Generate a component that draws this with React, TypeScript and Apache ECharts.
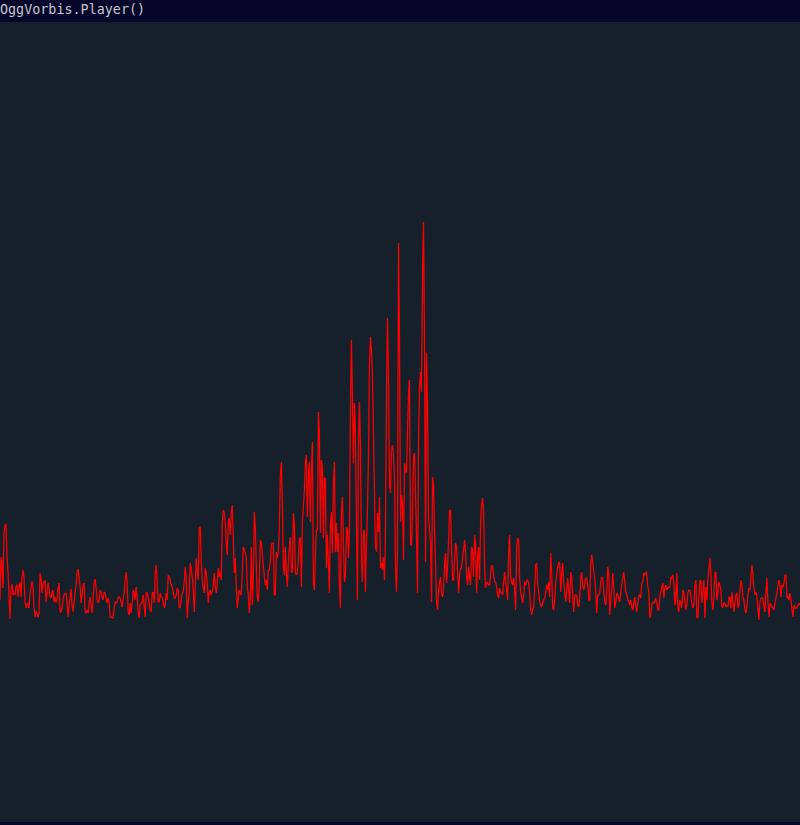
import React, { useEffect, useRef } from "react";
import * as echarts from "echarts";

const TITLE = "OggVorbis.Player()";

// Spectrum magnitude, one value per frequency bin (800 bins), split in bands
const bandA = [222,265,255,234,290,297,298,265,250,227,203,232,238,227,229,227,236,237,225,235,240,225,245,252,244,220,214,219,217,214,229,235,241,235,214,205,210,209,205,209,249,244,229,239,240,242,220,230,239,234,225,224,230,232,220,225,219,224,233,239,210,210,214,222,227,228,229,217,205,217,225,233,216,210,220,230,237,250,253,245,235,219,227,237,239,210,209,212,209,219,225,217,209,222,239,243,234,222,219,222,232,230,224,222,230,229,224,219,224,220,205,205,204,204,214,220,219,220,225,225,224,220,215,222,229,242,250,239,210,207,219,209,219,232];
const bandB = [230,222,235,225,210,204,217,219,220,227,215,205,230,229,225,219,212,210,229,230,219,250,257,239,220,220,229,225,224,219,214,217,229,222,247,245,242,237,235,230,224,224,227,234,232,215,214,222,229,230,240,255,245,204,220,229,259,254,245,234,210,235,264,250,242,295,295,262,242,234,229,254,249,239,219,230,232,227,230,237,249,235,229,239,254,245,250,242,299,312,309,300,277,267,299,304,287,310,317,285,249,264,235,214,224,232,229,227,250,275,272,269,264,235,227,209,222,275,217,242,310,295,254,224,220,240,282,280,267,257,245,237,242,232];
const bandC = [252,252,262,277,279,279,227,227,270,264,270,294,347,360,320,254,247,275,249,235,260,275,285,250,250,309,299,249,247,249,265,284,284,235,300,315,332,360,367,305,345,360,300,354,380,239,232,267,292,292,410,390,289,362,355,284,344,344,254,287,259,229,299,310,269,339,360,270,299,270,289,235,214,312,325,280,240,245,295,292,264,292,412,482,425,359,419,389,297,222,374,420,377,260,240,290,292,230,277,312,364,457,485,472,447,389,330,275,270,309,290,325,254,259,252,265,242,289,430,504,447,335,329,372,377,370,342,257,230,272,579,484,300,327];
const bandD = [320,262,359,350,350,390,429,442,277,277,307,365,369,329,285,229,380,434,450,430,549,600,479,260,469,419,304,292,280,220,345,337,289,259,220,212,230,240,245,229,225,232,260,269,239,255,282,312,312,274,242,242,262,279,275,250,229,247,254,254,265,272,282,270,245,237,255,245,237,275,272,245,287,279,229,265,275,242,300,317,324,312,255,234,239,240,237,237,249,257,255,247,240,240,235,227,224,234,230,229,227,240,250,240,232,222,270,287,244,240,237,244,230,212,275,284,282,244,230,224,219,225,240,237,242,242,239,229,212,207,212,215,232,257];
const bandE = [259,239,230,220,217,215,219,222,224,229,237,232,240,225,269,249,214,212,222,239,247,255,260,259,230,249,259,240,230,220,232,244,230,219,250,245,224,210,227,227,227,217,215,224,245,250,237,232,237,244,244,237,222,222,259,267,260,250,244,230,209,227,227,229,240,245,244,230,220,217,230,255,249,207,222,232,249,235,214,220,229,227,224,220,230,237,245,250,240,230,227,222,220,217,222,215,212,220,225,215,210,219,227,227,224,239,240,249,247,250,249,235,230,204,207,217,220,219,220,224,219,212,212,225,230,235,239,224,234,237,232,235,234,235];
const bandF = [245,244,247,239,217,224,249,214,210,222,220,214,232,230,222,212,217,229,232,232,225,219,214,217,235,242,204,205,225,242,240,219,230,242,204,235,222,242,252,264,249,219,212,225,249,250,222,229,240,237,232,215,215,219,219,215,217,215,225,225,214,230,219,210,220,227,229,214,217,232,242,237,225,222,212,209,215,227,234,232,245,257,247,234,227,230,225,212,202,220,224,224,224,214,210,230,244,219,205,219,217,215,214,212,219,224,230,237,242,237,225,237,235,239,247,247,224,225,222,229,222,212,205,217,214,214,214,217,219,217];

const spectrum = [...bandA, ...bandB, ...bandC, ...bandD, ...bandE, ...bandF];
const bins = spectrum.map((_, i) => String(i));

export default function App() {
  const ref = useRef<HTMLDivElement>(null);

  useEffect(() => {
    document.body.style.margin = "0";
    const chart = echarts.init(ref.current!, null, { renderer: "svg" });
    chart.setOption({
      animation: false,
      backgroundColor: "#06062a",
      graphic: [
        {
          type: "rect",
          shape: { x: 0, y: 22, width: 800, height: 800 },
          style: { fill: "#15202b" },
          z: -10,
          silent: true,
        },
        {
          type: "text",
          x: 0,
          y: 3,
          style: {
            text: TITLE,
            fill: "#c4c6d0",
            font: "13.4px 'DejaVu Sans Mono', monospace",
          },
          z: 10,
        },
      ],
      grid: { left: 0, right: 0, top: 22, bottom: 3 },
      xAxis: {
        type: "category",
        data: bins,
        boundaryGap: false,
        show: false,
      },
      yAxis: {
        type: "value",
        min: 0,
        max: 800,
        show: false,
        splitLine: { show: false },
      },
      series: [
        {
          type: "line",
          data: spectrum,
          symbol: "none",
          lineStyle: { color: "#ff0000", width: 1.25 },
          z: 5,
        },
      ],
    });
    return () => chart.dispose();
  }, []);

  return (
    <div
      ref={ref}
      style={{ position: "fixed", left: 0, top: 0, width: 800, height: 825 }}
    />
  );
}
